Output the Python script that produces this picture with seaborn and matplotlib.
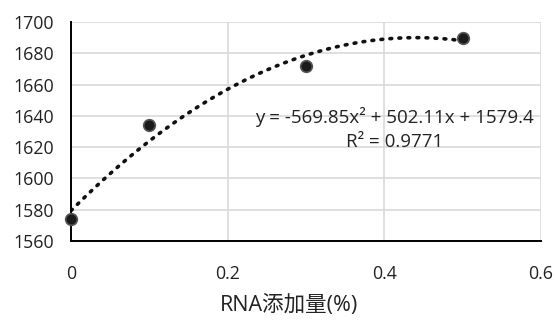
import matplotlib
matplotlib.use("Agg")
import matplotlib.pyplot as plt
import seaborn as sns
import pandas as pd
import numpy as np

x_vals = [0.0, 0.1, 0.3, 0.5]
y_vals = [1574, 1634, 1672, 1690]
x_ticks = [0, 0.2, 0.4, 0.6]
x_tick_labels = ["0", "0.2", "0.4", "0.6"]
y_ticks = [1560, 1580, 1600, 1620, 1640, 1660, 1680, 1700]
eq_text = "y = -569.85x² + 502.11x + 1579.4\nR² = 0.9771"
x_label = "RNA添加量(%)"

sns.set_theme(style="white")
plt.rcParams['font.family'] = ['Open Sans', 'Noto Sans CJK SC', 'DejaVu Sans']

df = pd.DataFrame({"x": x_vals, "y": y_vals})

fig = plt.figure(figsize=(5.56, 3.22), dpi=100)
ax = fig.add_axes([71/556, 1 - 241/322, 470/556, 219/322])

sns.regplot(data=df, x="x", y="y", order=2, ci=None, scatter=False, ax=ax,
            line_kws=dict(color="#111111", linestyle=(0, (0.5, 2.0)), linewidth=2.6,
                          dash_capstyle="round"))
sns.scatterplot(data=df, x="x", y="y", ax=ax, s=70, color="#1a1a1a",
                edgecolor="#555555", linewidth=1.2, zorder=5, clip_on=False)

ax.set_xlim(0, 0.6)
ax.set_ylim(1560, 1700)
ax.set_xticks(x_ticks)
ax.set_xticklabels(x_tick_labels)
ax.set_yticks(y_ticks)
ax.grid(True, color="#d9d9d9", linewidth=1.2)
ax.set_axisbelow(True)
for s in ["top", "right"]:
    ax.spines[s].set_visible(False)
for s in ["left", "bottom"]:
    ax.spines[s].set_color("black")
    ax.spines[s].set_linewidth(1.4)
    ax.spines[s].set_zorder(3)
ax.tick_params(axis="both", labelsize=12.8, colors="#222222", length=0)
ax.tick_params(axis="x", pad=17)
ax.tick_params(axis="y", pad=12)
ax.set_xlabel(x_label, fontsize=15.5, color="#222222")
ax.xaxis.set_label_coords(0.463, -0.245)
ax.set_ylabel("")

ax.text(0.413, 1631.5, eq_text, ha="center", va="center", fontsize=13.5,
        color="#222222", linespacing=1.45)

fig.savefig("out.png", dpi=100)
